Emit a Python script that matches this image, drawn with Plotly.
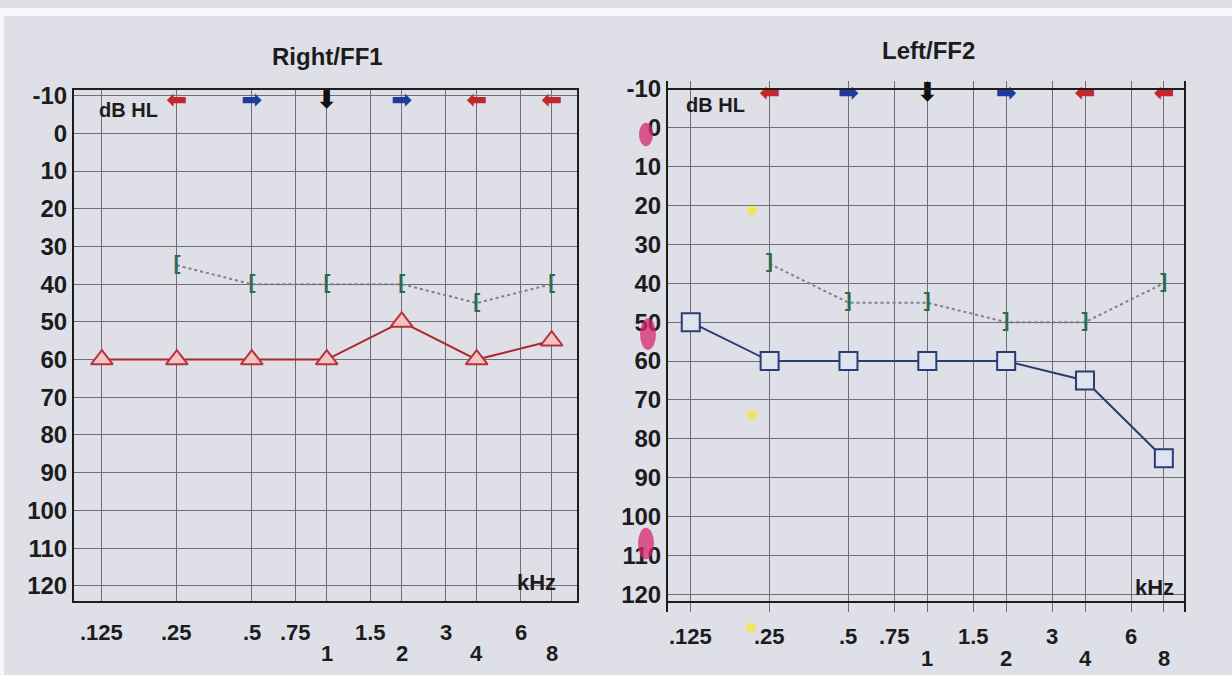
import math
import plotly.graph_objects as go

# Test frequencies (kHz) and thresholds (dB HL)
ac_freqs = [0.125, 0.25, 0.5, 1, 2, 4, 8]
bc_freqs = [0.25, 0.5, 1, 2, 4, 8]
right_ac = [60, 60, 60, 60, 50, 60, 55]
right_bc = [35, 40, 40, 40, 45, 40]
left_ac = [50, 60, 60, 60, 60, 65, 85]
left_bc = [35, 45, 45, 50, 50, 40]

# Symbols printed along the top of each audiogram
flag_freqs = [0.25, 0.5, 1, 2, 4, 8]
flag_glyphs = ["⬅", "➡", "⬇", "➡", "⬅", "⬅"]
flag_colors = ["#c2262e", "#1f3c9c", "#111111", "#1f3c9c", "#c2262e", "#c2262e"]
flag_sizes = [25, 25, 26, 25, 25, 25]
flag_level = [-8.5] * len(flag_freqs)

# Grid frequencies and their labels (upper / lower row)
grid_freqs = [0.125, 0.25, 0.5, 0.75, 1, 1.5, 2, 3, 4, 6, 8]
upper_freqs = [0.125, 0.25, 0.5, 0.75, 1.5, 3, 6]
upper_labels = [".125", ".25", ".5", ".75", "1.5", "3", "6"]
lower_freqs = [1, 2, 4, 8]
lower_labels = ["1", "2", "4", "8"]
db_ticks = list(range(-10, 130, 10))
db_labels = [str(v) for v in db_ticks]

W, H = 1232, 675
BG = "#dfdfe7"
GRID = "#6e6e76"
FONT = "Liberation Sans"
TXT = "#1c1c1c"


def px(x):
    return x / W


def py(y):
    return 1 - y / H


# panel geometry in pixels: (left, right, top, bottom)
panels = {
    "L": dict(l=74, r=577, t=83, b=600, xr=[-1.015, 1.005], yr=[124, -11.5],
              rows=(632, 653), title_y=49, khz=(558, 581), dbhl=(97, 103)),
    "R": dict(l=668, r=1184, t=74, b=611, xr=[-0.99, 0.98], yr=[124.5, -12],
              rows=(636, 658), title_y=43, khz=(1176, 586), dbhl=(684, 98)),
}

fig = go.Figure()


def label(x, y, text, size, xref="paper", xanchor="center"):
    fig.add_annotation(x=x, y=y, xref=xref, yref="paper", text=text,
                       showarrow=False, xanchor=xanchor, yanchor="middle",
                       font=dict(family=FONT, size=size, color=TXT,
                                 weight="bold"))


def add_panel(key, xa, ya, ac, bc, ac_style, bc_glyph, title):
    p = panels[key]
    # air conduction
    fig.add_trace(go.Scatter(
        x=ac_freqs, y=ac, mode="lines+markers", xaxis=xa, yaxis=ya,
        line=dict(color=ac_style["line"], width=2),
        marker=dict(symbol=ac_style["symbol"], size=ac_style["size"],
                    color=ac_style["fill"],
                    line=dict(color=ac_style["edge"], width=2)),
        showlegend=False, hoverinfo="skip"))
    # bone conduction
    fig.add_trace(go.Scatter(
        x=bc_freqs, y=bc, mode="lines", xaxis=xa, yaxis=ya,
        line=dict(color="#80808a", width=2, dash="dot"),
        showlegend=False, hoverinfo="skip"))
    fig.add_trace(go.Scatter(
        x=bc_freqs, y=bc, mode="text", xaxis=xa, yaxis=ya,
        text=[bc_glyph] * len(bc_freqs),
        textfont=dict(family="DejaVu Sans Mono", size=22, color="#2e6a50",
                      weight="bold"),
        showlegend=False, hoverinfo="skip"))
    # top-row flags
    fig.add_trace(go.Scatter(
        x=flag_freqs, y=flag_level, mode="text", xaxis=xa, yaxis=ya,
        text=flag_glyphs,
        textfont=dict(family="DejaVu Sans", size=flag_sizes,
                      color=flag_colors, weight="bold"),
        showlegend=False, hoverinfo="skip"))

    # frequency labels
    for f, lab in zip(upper_freqs, upper_labels):
        label(math.log10(f), py(p["rows"][0]), lab, 22, xref=xa)
    for f, lab in zip(lower_freqs, lower_labels):
        label(math.log10(f), py(p["rows"][1]), lab, 22, xref=xa)
    # title and unit labels
    label(px((p["l"] + p["r"]) / 2 + 2), py(p["title_y"]), title, 24)
    label(px(p["dbhl"][0]), py(p["dbhl"][1]), "dB HL", 20, xanchor="left")
    label(px(p["khz"][0]), py(p["khz"][1]), "kHz", 22, xanchor="right")


add_panel("L", "x", "y", right_ac, right_bc,
          dict(line="#a8282c", symbol="triangle-up", size=19,
               fill="#f2c4c6", edge="#b9323a"), "[", "Right/FF1")
add_panel("R", "x2", "y2", left_ac, left_bc,
          dict(line="#2b3c6e", symbol="square", size=18,
               fill="#dfe3ee", edge="#2a3d78"), "]", "Left/FF2")


def xaxis_cfg(p):
    return dict(type="log", range=p["xr"], domain=[px(p["l"]), px(p["r"])],
                tickvals=grid_freqs, showticklabels=False, ticks="",
                showgrid=True, gridcolor=GRID, gridwidth=1.4,
                showline=True, mirror=True, linecolor="#1e1e1e", linewidth=2,
                zeroline=False, fixedrange=True)


def yaxis_cfg(p, anchor):
    return dict(range=p["yr"], domain=[py(p["b"]), py(p["t"])],
                tickvals=db_ticks, ticktext=db_labels, ticks="",
                tickfont=dict(family=FONT, size=24, color=TXT, weight="bold"),
                showgrid=True, gridcolor=GRID, gridwidth=1.4,
                showline=True, mirror=True, linecolor="#1e1e1e", linewidth=2,
                zeroline=False, anchor=anchor, fixedrange=True)


# highlighter marks on the right-hand scale
marks = [
    dict(cx=646, cy=128, rx=7, ry=12, c="rgba(214,40,110,0.75)"),
    dict(cx=648, cy=330, rx=8, ry=16, c="rgba(214,40,110,0.75)"),
    dict(cx=646, cy=542, rx=8, ry=16, c="rgba(214,40,110,0.75)"),
    dict(cx=752, cy=205, rx=5, ry=5, c="rgba(245,230,60,0.8)"),
    dict(cx=752, cy=412, rx=5, ry=5, c="rgba(245,230,60,0.8)"),
    dict(cx=751, cy=627, rx=5, ry=5, c="rgba(245,230,60,0.8)"),
]
shapes = [
    dict(type="circle", xref="paper", yref="paper",
         x0=px(m["cx"] - m["rx"]), x1=px(m["cx"] + m["rx"]),
         y0=py(m["cy"] + m["ry"]), y1=py(m["cy"] - m["ry"]),
         fillcolor=m["c"], line=dict(width=0), layer="above")
    for m in marks
]
# bright edge of the sheet along the top and left
shapes += [
    dict(type="rect", xref="paper", yref="paper", x0=0, x1=1,
         y0=py(8), y1=1, fillcolor="#f7f7fa", line=dict(width=0),
         layer="below"),
    dict(type="rect", xref="paper", yref="paper", x0=0, x1=px(4),
         y0=0, y1=1, fillcolor="#f7f7fa", line=dict(width=0),
         layer="below"),
]

fig.update_layout(
    width=W, height=H,
    margin=dict(l=0, r=0, t=0, b=0),
    paper_bgcolor=BG, plot_bgcolor=BG,
    xaxis=xaxis_cfg(panels["L"]),
    yaxis=yaxis_cfg(panels["L"], "x"),
    xaxis2=xaxis_cfg(panels["R"]),
    yaxis2=yaxis_cfg(panels["R"], "x2"),
    shapes=shapes,
    showlegend=False,
)

fig.write_html("out.html")
